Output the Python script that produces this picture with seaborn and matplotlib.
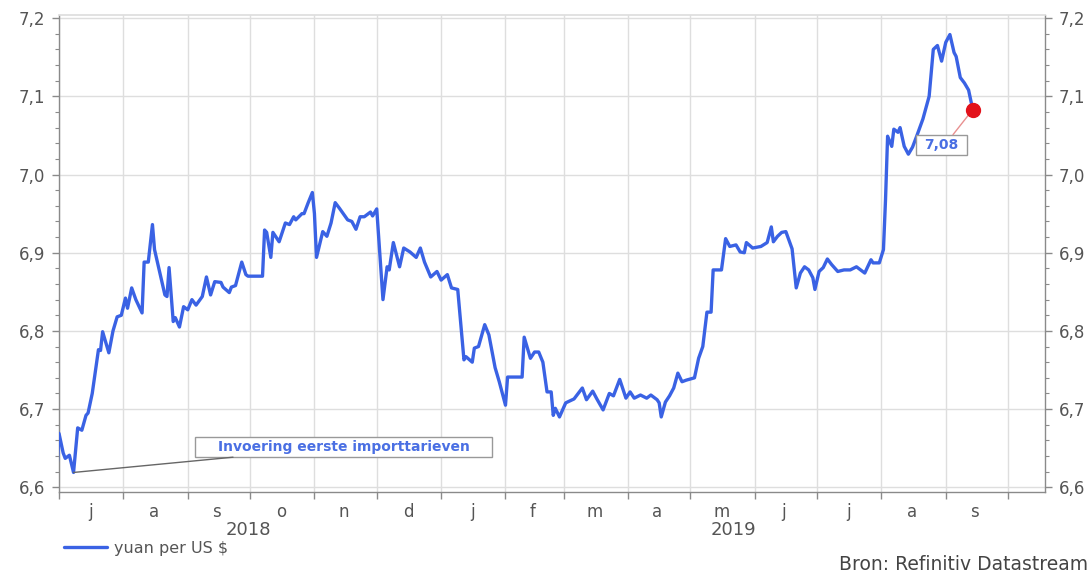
import matplotlib
matplotlib.use('Agg')
import matplotlib.pyplot as plt
import matplotlib.dates as mdates
import matplotlib.ticker as mticker
import matplotlib.transforms as mtransforms
from matplotlib.patches import Rectangle
import seaborn as sns
import pandas as pd

# ---------------- data ----------------
dates_2018 = [
    '2018-06-30', '2018-07-01', '2018-07-03', '2018-07-04', '2018-07-06', '2018-07-08',
    '2018-07-10', '2018-07-12', '2018-07-14', '2018-07-15', '2018-07-17', '2018-07-20',
    '2018-07-21', '2018-07-22', '2018-07-25', '2018-07-27', '2018-07-29', '2018-07-31',
    '2018-08-02', '2018-08-03', '2018-08-05', '2018-08-07', '2018-08-10', '2018-08-11',
    '2018-08-13', '2018-08-15', '2018-08-16', '2018-08-19', '2018-08-21', '2018-08-22',
    '2018-08-23', '2018-08-25', '2018-08-26', '2018-08-28', '2018-08-30', '2018-09-01',
    '2018-09-03', '2018-09-05', '2018-09-08', '2018-09-10', '2018-09-12', '2018-09-14',
    '2018-09-17', '2018-09-18', '2018-09-21', '2018-09-22', '2018-09-24', '2018-09-27',
    '2018-09-29', '2018-09-30', '2018-10-07', '2018-10-08', '2018-10-09', '2018-10-11',
    '2018-10-12', '2018-10-15', '2018-10-18', '2018-10-20', '2018-10-22', '2018-10-23',
    '2018-10-26', '2018-10-27', '2018-10-29', '2018-10-31', '2018-11-01', '2018-11-02',
    '2018-11-05', '2018-11-07', '2018-11-09', '2018-11-11', '2018-11-13', '2018-11-17',
    '2018-11-19', '2018-11-21', '2018-11-23', '2018-11-25', '2018-11-28', '2018-11-29',
    '2018-12-01', '2018-12-04', '2018-12-06', '2018-12-07', '2018-12-09', '2018-12-12',
    '2018-12-14', '2018-12-17', '2018-12-20', '2018-12-22', '2018-12-24', '2018-12-27',
    '2018-12-30',
]
values_2018 = [
    6.622, 6.669, 6.644, 6.637, 6.641, 6.619,
    6.676, 6.673, 6.692, 6.695, 6.720, 6.776,
    6.775, 6.799, 6.772, 6.800, 6.818, 6.820,
    6.842, 6.829, 6.855, 6.840, 6.823, 6.888,
    6.888, 6.936, 6.904, 6.869, 6.846, 6.844,
    6.881, 6.812, 6.817, 6.805, 6.831, 6.827,
    6.840, 6.833, 6.844, 6.869, 6.846, 6.863,
    6.862, 6.856, 6.849, 6.856, 6.858, 6.888,
    6.872, 6.870, 6.870, 6.929, 6.926, 6.894,
    6.926, 6.914, 6.938, 6.936, 6.946, 6.942,
    6.950, 6.950, 6.964, 6.977, 6.950, 6.894,
    6.927, 6.921, 6.938, 6.964, 6.957, 6.942,
    6.940, 6.930, 6.946, 6.946, 6.952, 6.947,
    6.956, 6.840, 6.882, 6.878, 6.913, 6.882,
    6.906, 6.901, 6.894, 6.906, 6.888, 6.869,
    6.876,
]
dates_2019 = [
    '2019-01-01', '2019-01-04', '2019-01-06', '2019-01-09', '2019-01-12', '2019-01-13',
    '2019-01-16', '2019-01-17', '2019-01-19', '2019-01-22', '2019-01-24', '2019-01-27',
    '2019-01-29', '2019-02-01', '2019-02-02', '2019-02-09', '2019-02-10', '2019-02-13',
    '2019-02-15', '2019-02-17', '2019-02-19', '2019-02-21', '2019-02-23', '2019-02-24',
    '2019-02-25', '2019-02-27', '2019-03-02', '2019-03-06', '2019-03-10', '2019-03-12',
    '2019-03-15', '2019-03-17', '2019-03-20', '2019-03-23', '2019-03-25', '2019-03-28',
    '2019-03-31', '2019-04-02', '2019-04-04', '2019-04-07', '2019-04-10', '2019-04-12',
    '2019-04-15', '2019-04-16', '2019-04-17', '2019-04-19', '2019-04-21', '2019-04-23',
    '2019-04-25', '2019-04-27', '2019-04-29', '2019-05-03', '2019-05-05', '2019-05-07',
    '2019-05-09', '2019-05-11', '2019-05-12', '2019-05-16', '2019-05-18', '2019-05-20',
    '2019-05-23', '2019-05-25', '2019-05-27', '2019-05-28', '2019-05-31', '2019-06-04',
    '2019-06-07', '2019-06-09', '2019-06-10', '2019-06-12', '2019-06-14', '2019-06-16',
    '2019-06-19', '2019-06-21', '2019-06-23', '2019-06-25', '2019-06-27', '2019-06-29',
    '2019-06-30', '2019-07-02', '2019-07-04', '2019-07-06', '2019-07-08', '2019-07-11',
    '2019-07-14', '2019-07-17', '2019-07-20', '2019-07-24', '2019-07-27', '2019-07-28',
    '2019-07-31', '2019-08-02', '2019-08-03', '2019-08-04', '2019-08-06', '2019-08-07',
    '2019-08-09', '2019-08-10', '2019-08-12', '2019-08-14', '2019-08-16', '2019-08-18',
    '2019-08-21', '2019-08-24', '2019-08-26', '2019-08-28', '2019-08-30', '2019-09-01',
    '2019-09-03', '2019-09-05', '2019-09-06', '2019-09-08', '2019-09-10', '2019-09-12',
    '2019-09-14',
]
values_2019 = [
    6.865, 6.872, 6.855, 6.853, 6.763, 6.767,
    6.760, 6.778, 6.780, 6.808, 6.795, 6.753,
    6.735, 6.705, 6.741, 6.741, 6.792, 6.765,
    6.773, 6.773, 6.760, 6.722, 6.722, 6.692,
    6.701, 6.690, 6.708, 6.713, 6.727, 6.712,
    6.723, 6.713, 6.699, 6.720, 6.717, 6.738,
    6.714, 6.722, 6.714, 6.718, 6.714, 6.718,
    6.712, 6.708, 6.690, 6.709, 6.717, 6.727,
    6.746, 6.735, 6.737, 6.740, 6.765, 6.780,
    6.824, 6.824, 6.878, 6.878, 6.918, 6.908,
    6.910, 6.901, 6.900, 6.913, 6.906, 6.908,
    6.913, 6.933, 6.914, 6.921, 6.926, 6.927,
    6.905, 6.855, 6.874, 6.882, 6.878, 6.868,
    6.853, 6.876, 6.881, 6.892, 6.885, 6.876,
    6.878, 6.878, 6.882, 6.874, 6.891, 6.887,
    6.887, 6.904, 6.968, 7.049, 7.036, 7.058,
    7.054, 7.060, 7.036, 7.026, 7.035, 7.049,
    7.071, 7.100, 7.160, 7.165, 7.145, 7.169,
    7.179, 7.156, 7.151, 7.124, 7.117, 7.108,
    7.083,
]

month_labels = ['j', 'a', 's', 'o', 'n', 'd', 'j', 'f', 'm', 'a', 'm', 'j', 'j', 'a', 's']
month_label_dates = ['2018-07-16', '2018-08-16', '2018-09-15', '2018-10-16', '2018-11-15',
                     '2018-12-16', '2019-01-16', '2019-02-14', '2019-03-16', '2019-04-15',
                     '2019-05-16', '2019-06-15', '2019-07-16', '2019-08-16', '2019-09-15']
year_labels = ['2018', '2019']
year_label_dates = ['2018-09-30', '2019-05-22']
y_ticks = [6.6, 6.7, 6.8, 6.9, 7.0, 7.1, 7.2]
y_tick_labels = ['6,6', '6,7', '6,8', '6,9', '7,0', '7,1', '7,2']
series_label = 'yuan per US $'
event_label = 'Invoering eerste importtarieven'
event_date = '2018-07-08'
last_value_label = '7,08'
source_text = 'Bron: Refinitiv Datastream'

# ---------------- style ----------------
sns.set_theme(style='white')
plt.rcParams['font.family'] = ['DejaVu Sans']

LINE = '#3a62e4'
GRID = '#dedede'
SPINE = '#8a8a8a'
TXT = '#555555'

fig = plt.figure(figsize=(10.92, 5.77), dpi=100)
ax = fig.add_axes([59 / 1092, 1 - 492 / 577, (1045 - 59) / 1092, (492 - 15) / 577])

df = pd.DataFrame({
    'date': pd.to_datetime(dates_2018 + dates_2019),
    'value': values_2018 + values_2019,
})
sns.lineplot(data=df, x='date', y='value', ax=ax, color=LINE, linewidth=2.4,
             label=series_label, zorder=3)

ax.set_xlim(pd.Timestamp('2018-07-01'), pd.Timestamp('2019-10-18 19:00'))
ax.set_ylim(6.594, 7.204)
ax.set_xlabel('')
ax.set_ylabel('')

# x axis: month boundaries as ticks/grid, letters centred in months
ax.xaxis.set_major_locator(mdates.MonthLocator())
ax.xaxis.set_major_formatter(mticker.NullFormatter())
ax.xaxis.set_minor_locator(mticker.FixedLocator(mdates.date2num(pd.to_datetime(month_label_dates))))
ax.xaxis.set_minor_formatter(mticker.FixedFormatter(month_labels))
ax.tick_params(axis='x', which='major', bottom=True, length=5, width=1, color=SPINE, direction='out')
ax.tick_params(axis='x', which='minor', bottom=True, length=0, pad=8, labelsize=12, labelcolor=TXT)

# y axis on both sides
ax.set_yticks(y_ticks)
ax.set_yticklabels(y_tick_labels)
ax.yaxis.set_minor_locator(mticker.MultipleLocator(0.02))
ax.tick_params(axis='y', which='both', left=True, right=True, labelleft=True, labelright=True,
               direction='out', color=SPINE, labelcolor=TXT, labelsize=12)
ax.tick_params(axis='y', which='major', length=5, width=1, pad=5)
ax.tick_params(axis='y', which='minor', length=3, width=0.8)

ax.grid(True, which='major', axis='both', color=GRID, linewidth=1)
ax.set_axisbelow(True)

for side in ['left', 'right', 'bottom']:
    ax.spines[side].set_color(SPINE)
    ax.spines[side].set_linewidth(1)
ax.spines['top'].set_color(GRID)

# year labels
trans = mtransforms.blended_transform_factory(ax.transData, ax.transAxes)
for lbl, d in zip(year_labels, year_label_dates):
    ax.text(mdates.date2num(pd.Timestamp(d)), -0.08, lbl, transform=trans,
            ha='center', va='center', fontsize=13, color=TXT)

# event annotation box + connector
ev_val = values_2018[dates_2018.index(event_date)]
x0 = mdates.date2num(pd.Timestamp('2018-09-04 12:00'))
x1 = mdates.date2num(pd.Timestamp('2019-01-25 12:00'))
ax.add_patch(Rectangle((x0, 6.6385), x1 - x0, 6.664 - 6.6385, facecolor='white',
                       edgecolor='#999999', linewidth=1, zorder=4))
ax.text(mdates.date2num(pd.Timestamp('2018-11-15')), 6.651, event_label, ha='center', va='center',
        fontsize=10, fontweight='bold', color='#4a6fe3', zorder=5)
ax.annotate('', xy=(mdates.date2num(pd.Timestamp(event_date)), ev_val),
            xytext=(mdates.date2num(pd.Timestamp('2018-09-22 19:00')), 6.6385),
            arrowprops=dict(arrowstyle='-', color='#666666', lw=1, shrinkA=0, shrinkB=0), zorder=4)

# last value marker + label
last_d = mdates.date2num(pd.Timestamp(dates_2019[-1]))
last_v = values_2019[-1]
bx0 = mdates.date2num(pd.Timestamp('2019-08-17 17:00'))
bx1 = mdates.date2num(pd.Timestamp('2019-09-11 05:00'))
ax.add_patch(Rectangle((bx0, 7.0256), bx1 - bx0, 7.051 - 7.0256, facecolor='white',
                       edgecolor='#999999', linewidth=1, zorder=4))
ax.text((bx0 + bx1) / 2, 7.038, last_value_label, ha='center', va='center',
        fontsize=10, fontweight='bold', color='#4a6fe3', zorder=5)
ax.annotate('', xy=(last_d, last_v), xytext=(mdates.date2num(pd.Timestamp('2019-09-04 12:00')), 7.051),
            arrowprops=dict(arrowstyle='-', color='#e89090', lw=1, shrinkA=0, shrinkB=0), zorder=4)
ax.plot([last_d], [last_v], marker='o', markersize=10, color='#e3121b', zorder=6)

# legend under the chart
ax.legend(loc='center left', bbox_to_anchor=(64 / 1092, 1 - 548 / 577), bbox_transform=fig.transFigure,
          frameon=False, fontsize=11.5, handlelength=2.7, handletextpad=0.4, borderpad=0,
          borderaxespad=0, labelcolor=TXT)

fig.text(1088 / 1092, 1 - 565 / 577, source_text, ha='right', va='center', fontsize=13.5, color='#444444')

fig.savefig('out.png', dpi=100)
